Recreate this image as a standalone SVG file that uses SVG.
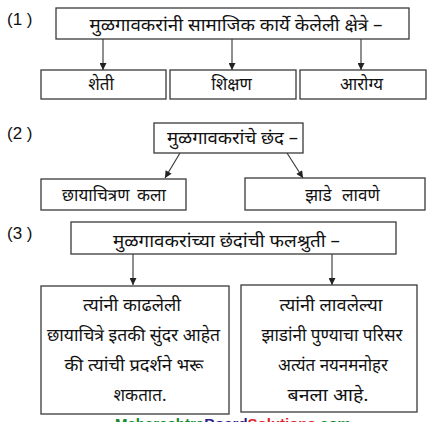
<svg xmlns="http://www.w3.org/2000/svg" width="435" height="422" viewBox="0 0 435 422">
<defs>
<marker id="ah" viewBox="0 0 10 10" refX="10" refY="5" markerWidth="9" markerHeight="7" markerUnits="userSpaceOnUse" orient="auto">
<path d="M0,0 L10,5 L0,10 Z" fill="#222"/>
</marker>
<style>
.box{fill:#fff;stroke:#3a3a3a;stroke-width:1.3}
.t{font-family:"Noto Sans Devanagari","Noto Sans","DejaVu Sans",sans-serif;font-size:17px;fill:#111;text-anchor:middle}
.num{font-family:"Liberation Sans",Arial,sans-serif;font-size:17px;fill:#111}
.c{stroke:#333;stroke-width:1.1;fill:none;marker-end:url(#ah)}
.wm{font-family:"Liberation Sans",Arial,sans-serif;font-size:15px;font-weight:bold}
</style>
</defs>
<rect width="435" height="422" fill="#fff"/>

<text class="num" x="7" y="25">(1 )</text>
<text class="num" x="7" y="139">(2 )</text>
<text class="num" x="7" y="239">(3 )</text>

<g id="connectors">
<line class="c" x1="103" y1="39" x2="103" y2="70"/>
<line class="c" x1="232" y1="39" x2="232" y2="70"/>
<line class="c" x1="361" y1="39" x2="361" y2="70"/>
<line class="c" x1="180" y1="153" x2="165" y2="178"/>
<line class="c" x1="287" y1="153" x2="303" y2="178"/>
<line class="c" x1="133" y1="254" x2="133" y2="285"/>
<line class="c" x1="332" y1="254" x2="332" y2="285"/>
</g>

<g id="n1">
<rect class="box" x="56" y="8" width="353" height="31"/>
<text class="t" x="236" y="31" textLength="293" lengthAdjust="spacingAndGlyphs">मुळगावकरांनी सामाजिक कार्ये केलेली क्षेत्रे –</text>
</g>
<g id="n1a">
<rect class="box" x="41" y="70" width="125" height="29"/>
<text class="t" x="101" y="90">शेती</text>
</g>
<g id="n1b">
<rect class="box" x="170" y="70" width="126" height="29"/>
<text class="t" x="231.5" y="90">शिक्षण</text>
</g>
<g id="n1c">
<rect class="box" x="300" y="70" width="126" height="29"/>
<text class="t" x="361.5" y="90" textLength="43" lengthAdjust="spacingAndGlyphs">आरोग्य</text>
</g>

<g id="n2">
<rect class="box" x="154" y="123" width="149" height="30"/>
<text class="t" x="232.5" y="144" textLength="131" lengthAdjust="spacingAndGlyphs">मुळगावकरांचे छंद –</text>
</g>
<g id="n2a">
<rect class="box" x="41" y="179" width="145" height="31"/>
<text class="t" x="114" y="201" word-spacing="3">छायाचित्रण कला</text>
</g>
<g id="n2b">
<rect class="box" x="245" y="178" width="180" height="32"/>
<text class="t" x="342.5" y="201" word-spacing="6">झाडे लावणे</text>
</g>

<g id="n3">
<rect class="box" x="71" y="222" width="325" height="32"/>
<text class="t" x="226.5" y="247" textLength="227" lengthAdjust="spacingAndGlyphs">मुळगावकरांच्या छंदांची फलश्रुती –</text>
</g>
<g id="n3a">
<rect class="box" x="41" y="286" width="188" height="128"/>
<text class="t" x="132" y="311" textLength="98" lengthAdjust="spacingAndGlyphs">त्यांनी काढलेली</text>
<text class="t" x="133.5" y="341" textLength="173" lengthAdjust="spacingAndGlyphs">छायाचित्रे इतकी सुंदर आहेत</text>
<text class="t" x="134" y="371" textLength="139" lengthAdjust="spacingAndGlyphs">की त्यांची प्रदर्शने भरू</text>
<text class="t" x="140" y="401">शकतात.</text>
</g>
<g id="n3b">
<rect class="box" x="241" y="285" width="176" height="127"/>
<text class="t" x="331" y="311" textLength="103" lengthAdjust="spacingAndGlyphs">त्यांनी लावलेल्या</text>
<text class="t" x="332" y="341" textLength="141" lengthAdjust="spacingAndGlyphs">झाडांनी पुण्याचा परिसर</text>
<text class="t" x="333" y="371" textLength="110" lengthAdjust="spacingAndGlyphs">अत्यंत नयनमनोहर</text>
<text class="t" x="328" y="401" textLength="81" lengthAdjust="spacingAndGlyphs">बनला आहे.</text>
</g>

<text class="wm" x="115" y="429"><tspan fill="#13892b">Maharashtra</tspan><tspan fill="#2b1a8c">Board</tspan><tspan fill="#e0202a">Solutions</tspan><tspan fill="#13892b">.com</tspan></text>
</svg>
